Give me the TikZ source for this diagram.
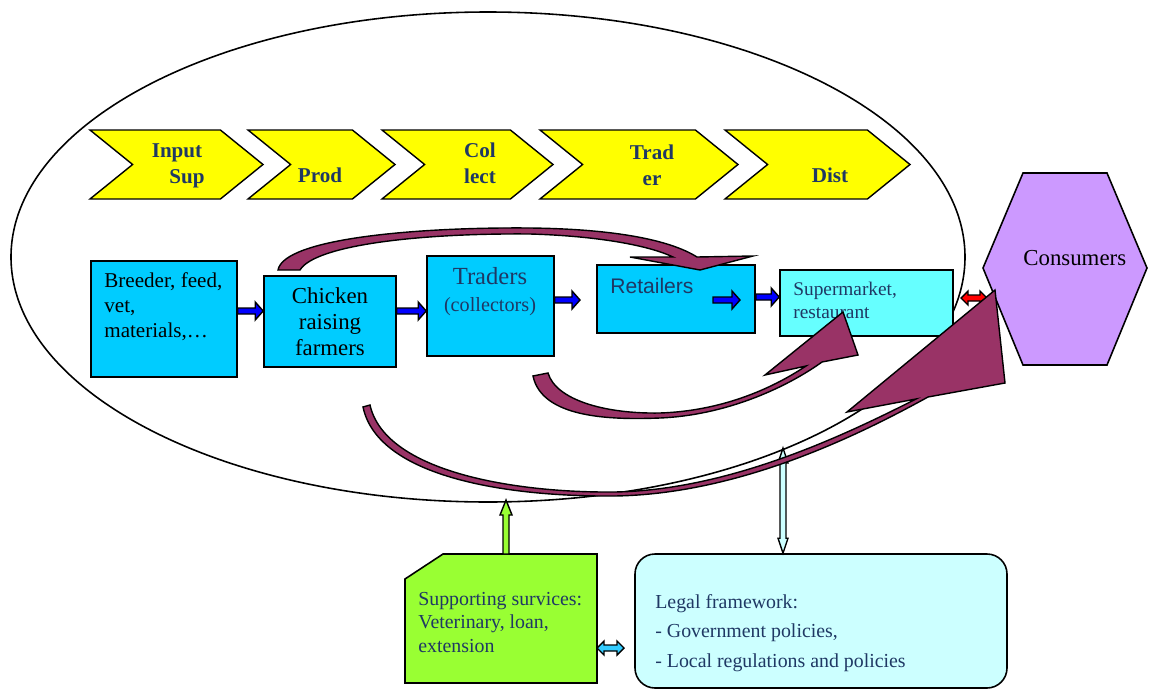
\documentclass[tikz,border=0pt]{standalone}
\usepackage{fontspec}
\setmainfont{Liberation Serif}
\setsansfont{Liberation Sans}
\usetikzlibrary{shapes.symbols,calc}

\definecolor{cajaazul}{HTML}{00CCFF}
\definecolor{cajasuper}{HTML}{66FFFF}
\definecolor{lila}{HTML}{CC99FF}
\definecolor{verde}{HTML}{99FF33}
\definecolor{celeste}{HTML}{CCFFFF}
\definecolor{amarillo}{HTML}{FFFF00}
\definecolor{granate}{HTML}{993366}
\definecolor{marino}{HTML}{1F3864}
\definecolor{azulflecha}{HTML}{33CCFF}

\newlength{\px}\setlength{\px}{0.02cm}

%flecha gorda horizontal
\newcommand{\flecha}[3]{%
  \filldraw[fill=#3, line width=0.8pt] ($#1+(0,-3)$) -- ($#2+(-8,-3)$) -- ($#2+(-8,-9)$) -- #2
    -- ($#2+(-8,9)$) -- ($#2+(-8,3)$) -- ($#1+(0,3)$) -- cycle;}
%flecha doble horizontal
\newcommand{\dflecha}[3]{%
  \filldraw[fill=#3, line width=0.8pt] #1 -- ($#1+(7,-7)$) -- ($#1+(7,-3)$) -- ($#2+(-7,-3)$) -- ($#2+(-7,-7)$) -- #2
    -- ($#2+(-7,7)$) -- ($#2+(-7,3)$) -- ($#1+(7,3)$) -- ($#1+(7,7)$) -- cycle;}
%flecha vertical hacia arriba
\newcommand{\vflecha}[3]{%
  \filldraw[fill=#3, line width=0.8pt] ($#1+(-3,0)$) -- ($#2+(-3,15)$) -- ($#2+(-6,15)$) -- #2
    -- ($#2+(6,15)$) -- ($#2+(3,15)$) -- ($#1+(3,0)$) -- cycle;}
%flecha doble vertical
\newcommand{\dvflecha}[3]{%
  \filldraw[fill=#3, line width=0.8pt] #1 -- ($#1+(5,15)$) -- ($#1+(3,15)$) -- ($#2+(3,-15)$) -- ($#2+(5,-15)$) -- #2
    -- ($#2+(-5,-15)$) -- ($#2+(-3,-15)$) -- ($#1+(-3,15)$) -- ($#1+(-5,15)$) -- cycle;}

\tikzset{
  chev/.style={signal, signal from=west, signal to=east, signal pointer angle=78,
    draw=black, line width=0.8pt, fill=amarillo, minimum height=69\px, inner sep=0pt},
  chevtxt/.style={font=\fontsize{12}{14.7}\selectfont\bfseries, text=marino, align=center, anchor=base, inner sep=0pt},
  caja/.style={draw=black, line width=0.9pt, fill=cajaazul, inner sep=0pt},
  texto/.style={align=left, anchor=base west, inner sep=0pt},
  curva/.style={draw=black, fill=granate, line width=0.8pt},
}

\begin{document}
\begin{tikzpicture}[x=\px, y=-\px]
  \useasboundingbox (0,0) rectangle (1150,690);
  %elipse
  \draw[line width=0.9pt] (488,257) ellipse [x radius=477, y radius=245];
  %%%% CHEVRONES
  \node[chev, minimum width=173\px] (chinput) at (176.5,164.5) {};
  \node[chev, minimum width=147\px] (chprod) at (321.5,164.5) {};
  \node[chev, minimum width=171\px] (chcol) at (467.5,164.5) {};
  \node[chev, minimum width=198\px] (chtrad) at (639,164.5) {};
  \node[chev, minimum width=185\px] (chdist) at (817.5,164.5) {};
  \node[chevtxt] (tinput) at (177,183) {Input\\\hspace*{20\px}Sup};
  \node[chevtxt] (tprod) at (320,182) {Prod};
  \node[chevtxt] (tcol) at (480,183) {Col\\lect};
  \node[chevtxt] (ttrad) at (652,185) {Trad\\er};
  \node[chevtxt] (tdist) at (830,182) {Dist};
  %%%% CAJAS
  \node[caja, minimum width=146\px, minimum height=116\px] (breeder) at (164,319) {};
  \node[caja, minimum width=132\px, minimum height=91\px] (farmers) at (330,321.5) {};
  \node[caja, minimum width=127\px, minimum height=100\px] (traders) at (490.5,306) {};
  \node[caja, minimum width=158\px, minimum height=68\px] (retail) at (676,299) {};
  \node[caja, fill=cajasuper, minimum width=173\px, minimum height=66\px] (super) at (866.5,303) {};
  \node[texto, font=\fontsize{12}{14.2}\selectfont] (tbreeder) at (104,337) {Breeder, feed,\\vet,\\materials,…};
  \node[font=\fontsize{13}{14.7}\selectfont, align=center, anchor=base, inner sep=0pt] (tfarmers) at (330,355) {Chicken\\raising\\farmers};
  \node[font=\fontsize{14}{16}\selectfont, text=marino, anchor=base, inner sep=0pt] (ttraders) at (490,284) {Traders};
  \node[font=\fontsize{11.5}{14}\selectfont, text=marino, anchor=base, inner sep=0pt] (tcollect) at (490,311) {(collectors)};
  \node[texto, font=\sffamily\fontsize{12}{14}\selectfont, text=marino] (tretail) at (610,293) {Retailers};
  \node[texto, font=\fontsize{11}{13}\selectfont, text=marino] (tsuper) at (793,318) {Supermarket,\\restaurant};
  %consumidores
  \filldraw[fill=lila, line width=0.9pt] (1023,173) -- (1107,173) -- (1147,268) -- (1107,365) -- (1023,365) -- (983,268) -- cycle;
  \node[texto, font=\fontsize{13}{15}\selectfont] (tcons) at (1023,265) {Consumers};
  %%%% SERVICIOS Y MARCO LEGAL
  \filldraw[fill=verde, line width=0.9pt] (443,554) -- (597,554) -- (597,683) -- (405,683) -- (405,579) -- cycle;
  \coordinate (support) at (597,648);
  \node[texto, font=\fontsize{11.3}{13.3}\selectfont, text=marino] (tsupport) at (418,652) {Supporting survices:\\Veterinary, loan,\\extension};
  \node[caja, fill=celeste, rounded corners=20\px, minimum width=372\px, minimum height=134\px] (legal) at (821,621) {};
  \node[texto, font=\fontsize{11.3}{16.7}\selectfont, text=marino] (tlegal) at (655,667) {Legal framework:\\- Government policies,\\- Local regulations and policies};
  %%%% FLECHAS
  \flecha{(breeder.east |- 0,311)}{(farmers.west |- 0,311)}{blue}
  \flecha{(farmers.east |- 0,311)}{(traders.west |- 0,311)}{blue}
  \coordinate (f3) at (580,300);
  \flecha{(traders.east |- f3)}{(f3)}{blue}
  \coordinate (f4a) at (713,300);
  \coordinate (f4b) at (740,300);
  \flecha{(f4a)}{(f4b)}{blue}
  \flecha{(retail.east |- 0,297)}{(super.west |- 0,297)}{blue}
  \coordinate (rojoa) at (961,298);
  \coordinate (rojob) at (987,298);
  \dflecha{(rojoa)}{(rojob)}{red}
  \coordinate (elbot) at (506,500);
  \vflecha{(elbot |- 0,554)}{(elbot)}{verde}
  \coordinate (elder) at (783,448);
  \dvflecha{(elder)}{(legal.north -| elder)}{celeste}
  \coordinate (legalw) at (624,648);
  \dflecha{(support)}{(legalw)}{azulflecha}
  %%%% CURVAS
  \filldraw[curva] (278,270) .. controls (284,238) and (420,227) .. (530,228)
    .. controls (615,229) and (670,240) .. (697,257)
    -- (753,256) -- (700,270) -- (630,257) -- (673,257)
    .. controls (650,246) and (600,236) .. (530,234)
    .. controls (420,233) and (315,245) .. (300,270) -- cycle;
  \filldraw[curva] (533,376) .. controls (542,418) and (610,420) .. (660,418)
    .. controls (730,415) and (790,385) .. (822,362)
    -- (858,355) -- (843,312) -- (765,375) -- (806,366)
    .. controls (770,390) and (720,411) .. (660,413)
    .. controls (605,414) and (556,400) .. (548,373) -- cycle;
  \filldraw[curva] (363,407) .. controls (378,478) and (510,497) .. (615,496)
    .. controls (735,494) and (850,440) .. (928,397)
    -- (1005,383) -- (995,290) -- (847,412) -- (916,399)
    .. controls (845,435) and (730,490) .. (615,492)
    .. controls (515,493) and (385,472) .. (370,405) -- cycle;
\end{tikzpicture}
\end{document}
